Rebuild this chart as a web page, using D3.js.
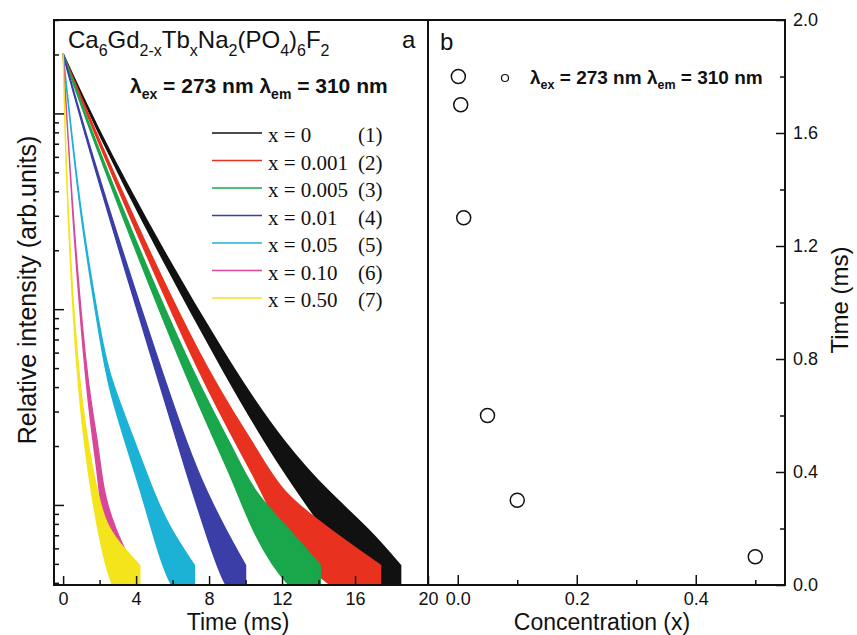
<!DOCTYPE html>
<html lang="en">
<head>
<meta charset="UTF-8" />
<title>Tb luminescence decay</title>
<script src="https://cdn.jsdelivr.net/npm/d3@7"></script>
<style>
  body { margin: 0; background: #fff; }
  svg text { font-family: "Liberation Sans", Arial, sans-serif; fill: #111; }
</style>
</head>
<body>
<svg width="857" height="635"></svg>
<script>
// ---- data ----
// panel a: decay curves, time (ms) / relative intensity / noise half-width (decades)
const seriesLabels = ["x = 0", "x = 0.001", "x = 0.005", "x = 0.01", "x = 0.05", "x = 0.10", "x = 0.50"];
const seriesNums = ["(1)", "(2)", "(3)", "(4)", "(5)", "(6)", "(7)"];
const seriesColors = ["#111111", "#e8321f", "#1aa64a", "#3a3ea6", "#1cb2d6", "#d8489a", "#f3e41c"];

const time1 = [0, 2.85, 9.3, 12.3, 14.5, 16.8, 18.5];
const inten1 = [200, 52, 4.3, 1.64, 0.91, 0.52, 0.39];
const time2 = [0, 2.6, 7.8, 10.6, 11.9, 14.6, 17.4];
const inten2 = [200, 51, 4.3, 1.64, 0.91, 0.52, 0.39];
const time3 = [0, 2.3, 7.0, 9.3, 10.4, 12.4, 14.1];
const inten3 = [200, 51, 4.3, 1.64, 0.91, 0.52, 0.39];
const time4 = [0, 1.86, 5.4, 6.85, 7.85, 8.9, 10.0];
const inten4 = [200, 48, 4.3, 1.64, 0.91, 0.52, 0.39];
const time5 = [0, 0.93, 2.02, 2.46, 4.05, 4.93, 5.87, 7.2];
const inten5 = [200, 30, 7.5, 4.3, 1.64, 0.91, 0.52, 0.39];
const time6 = [0, 0.49, 1.31, 1.91, 2.19, 2.85, 3.8];
const inten6 = [200, 32, 3.7, 1.76, 0.91, 0.52, 0.39];
const time7 = [0, 0.21, 0.82, 1.64, 2.3, 3.1, 4.2];
const inten7 = [200, 34, 3.7, 1.19, 0.62, 0.44, 0.39];
const noise7 = [0.004, 0.012, 0.05, 0.08, 0.11, 0.16, 0.1];
const noise8 = [0.004, 0.012, 0.025, 0.04, 0.08, 0.11, 0.16, 0.1];

// panel b: lifetime vs Tb concentration
const concentration = [0.001, 0.005, 0.01, 0.05, 0.10, 0.50];
const lifetime = [1.80, 1.70, 1.30, 0.60, 0.30, 0.10];

// tick labels
const xTicksA = [0, 4, 8, 12, 16, 20];
const xMinorA = [2, 6, 10, 14, 18];
const xTicksB = [0, 0.2, 0.4];
const xMinorB = [0.1, 0.3, 0.5];
const yTicksB = [0, 0.4, 0.8, 1.2, 1.6, 2.0];
const yMinorB = [0.2, 0.6, 1.0, 1.4, 1.8];

const times = [time1, time2, time3, time4, time5, time6, time7];
const intens = [inten1, inten2, inten3, inten4, inten5, inten6, inten7];

// ---- layout ----
const svg = d3.select("svg");
const L = 54, M = 428, R = 785, T = 20, B = 585;

const xA = d3.scaleLinear().domain([-0.5, 20]).range([L, M]);
const yA = d3.scaleLog().domain([0.39, 300]).range([B, T]);
const xB = d3.scaleLinear().domain([-0.05, 0.55]).range([M, R]);
const yB = d3.scaleLinear().domain([0, 2]).range([B, T]);

svg.append("clipPath").attr("id", "clipA")
  .append("rect").attr("x", L).attr("y", T).attr("width", M - L).attr("height", B - T);

// decay curves drawn as noisy ribbons
const area = d3.area()
  .x(d => xA(d.t))
  .y0(d => yA(d.v / Math.pow(10, d.s)))
  .y1(d => yA(d.v * Math.pow(10, d.s)))
  .curve(d3.curveBasis);

const plot = svg.append("g").attr("clip-path", "url(#clipA)");
times.forEach((ts, k) => {
  const noise = ts.length === 8 ? noise8 : noise7;
  const pts = ts.map((t, i) => ({ t: t, v: intens[k][i], s: noise[i] }));
  plot.append("path")
    .attr("d", area(pts))
    .attr("fill", seriesColors[k])
    .attr("stroke", seriesColors[k])
    .attr("stroke-width", 1.4)
    .attr("stroke-linejoin", "round");
});

// legend a
const leg = svg.append("g");
seriesLabels.forEach((lab, i) => {
  const y = 134 + i * 27.5;
  leg.append("line").attr("x1", 212).attr("x2", 262).attr("y1", y - 1).attr("y2", y - 1)
    .attr("stroke", seriesColors[i]).attr("stroke-width", 1.6);
  leg.append("text").attr("x", 268).attr("y", y + 8)
    .style("font-family", "'Liberation Serif', 'Times New Roman', serif")
    .attr("font-size", 21).text(lab);
  leg.append("text").attr("x", 358).attr("y", y + 8)
    .style("font-family", "'Liberation Serif', 'Times New Roman', serif")
    .attr("font-size", 21).text(seriesNums[i]);
});

// panel b markers
svg.append("g").selectAll("circle")
  .data(concentration)
  .join("circle")
  .attr("cx", d => xB(d))
  .attr("cy", (d, i) => yB(lifetime[i]))
  .attr("r", 7)
  .attr("fill", "#fff")
  .attr("stroke", "#111")
  .attr("stroke-width", 1.5);

svg.append("circle").attr("cx", 505).attr("cy", 78).attr("r", 3.5)
  .attr("fill", "#fff").attr("stroke", "#111").attr("stroke-width", 1.2);

// ---- axes ----
function styleAxis(g, size) {
  g.select(".domain").remove();
  g.selectAll("line").attr("stroke", "#111").attr("stroke-width", 1.5);
  g.selectAll("text").attr("font-size", size).style("font-family", "'Liberation Sans', Arial, sans-serif").attr("fill", "#111");
}

const logTicks = yA.ticks();
const majorsA = logTicks.filter(d => Math.abs(Math.log10(d) - Math.round(Math.log10(d))) < 1e-9);
const minorsA = logTicks.filter(d => majorsA.indexOf(d) < 0);

svg.append("g").attr("transform", `translate(${L},0)`)
  .call(d3.axisRight(yA).tickValues(minorsA).tickSize(5).tickFormat(""))
  .call(g => styleAxis(g, 18));
svg.append("g").attr("transform", `translate(${L},0)`)
  .call(d3.axisRight(yA).tickValues(majorsA).tickSize(10).tickFormat(""))
  .call(g => styleAxis(g, 18));

svg.append("g").attr("transform", `translate(0,${B})`)
  .call(d3.axisBottom(xA).tickValues(xTicksA).tickSize(-9).tickPadding(7).tickFormat(d3.format("d")))
  .call(g => styleAxis(g, 18));
svg.append("g").attr("transform", `translate(0,${B})`)
  .call(d3.axisBottom(xA).tickValues(xMinorA).tickSize(-5).tickFormat(""))
  .call(g => styleAxis(g, 18));

svg.append("g").attr("transform", `translate(0,${B})`)
  .call(d3.axisBottom(xB).tickValues(xTicksB).tickSize(-10).tickPadding(7).tickFormat(d3.format(".1f")))
  .call(g => styleAxis(g, 18));
svg.append("g").attr("transform", `translate(0,${B})`)
  .call(d3.axisBottom(xB).tickValues(xMinorB).tickSize(-5).tickFormat(""))
  .call(g => styleAxis(g, 18));

svg.append("g").attr("transform", `translate(${R},0)`)
  .call(d3.axisRight(yB).tickValues(yTicksB).tickSize(-9).tickPadding(8).tickFormat(d3.format(".1f")))
  .call(g => styleAxis(g, 18));
svg.append("g").attr("transform", `translate(${R},0)`)
  .call(d3.axisRight(yB).tickValues(yMinorB).tickSize(-5).tickFormat(""))
  .call(g => styleAxis(g, 18));

// frame
svg.append("rect").attr("x", L).attr("y", T).attr("width", R - L).attr("height", B - T)
  .attr("fill", "none").attr("stroke", "#111").attr("stroke-width", 2);
svg.append("line").attr("x1", M).attr("x2", M).attr("y1", T).attr("y2", B)
  .attr("stroke", "#111").attr("stroke-width", 2);

// ---- texts ----
function subText(x, y, parts, size, subSize, drop, bold) {
  const t = svg.append("text").attr("x", x).attr("y", y).attr("font-size", size)
    .attr("font-weight", bold ? "bold" : "normal");
  let prev = false;
  parts.forEach(p => {
    const sub = p[1] === 1;
    t.append("tspan")
      .attr("dy", sub === prev ? 0 : (sub ? drop : -drop))
      .attr("font-size", sub ? subSize : size)
      .text(p[0]);
    prev = sub;
  });
}

subText(68, 48, [["Ca", 0], ["6", 1], ["Gd", 0], ["2-x", 1], ["Tb", 0], ["x", 1], ["Na", 0], ["2", 1],
  ["(PO", 0], ["4", 1], [")", 0], ["6", 1], ["F", 0], ["2", 1]], 24, 16, 8, false);

subText(130, 93, [["λ", 0], ["ex", 1], [" = 273 nm λ", 0], ["em", 1], [" = 310 nm", 0]], 21, 14, 6, true);
subText(530, 84, [["λ", 0], ["ex", 1], [" = 273 nm λ", 0], ["em", 1], [" = 310 nm", 0]], 19, 12.5, 5, true);

svg.append("text").attr("x", 402).attr("y", 48).attr("font-size", 24).text("a");
svg.append("text").attr("x", 440).attr("y", 50).attr("font-size", 24).text("b");

svg.append("text").attr("x", 238).attr("y", 630).attr("font-size", 23)
  .attr("text-anchor", "middle").text("Time (ms)");
svg.append("text").attr("x", 602).attr("y", 630).attr("font-size", 23)
  .attr("text-anchor", "middle").text("Concentration (x)");
svg.append("text").attr("transform", "translate(36,290) rotate(-90)").attr("font-size", 25)
  .attr("text-anchor", "middle").text("Relative intensity (arb.units)");
svg.append("text").attr("transform", "translate(848,300) rotate(-90)").attr("font-size", 24)
  .attr("text-anchor", "middle").text("Time (ms)");
</script>
</body>
</html>
